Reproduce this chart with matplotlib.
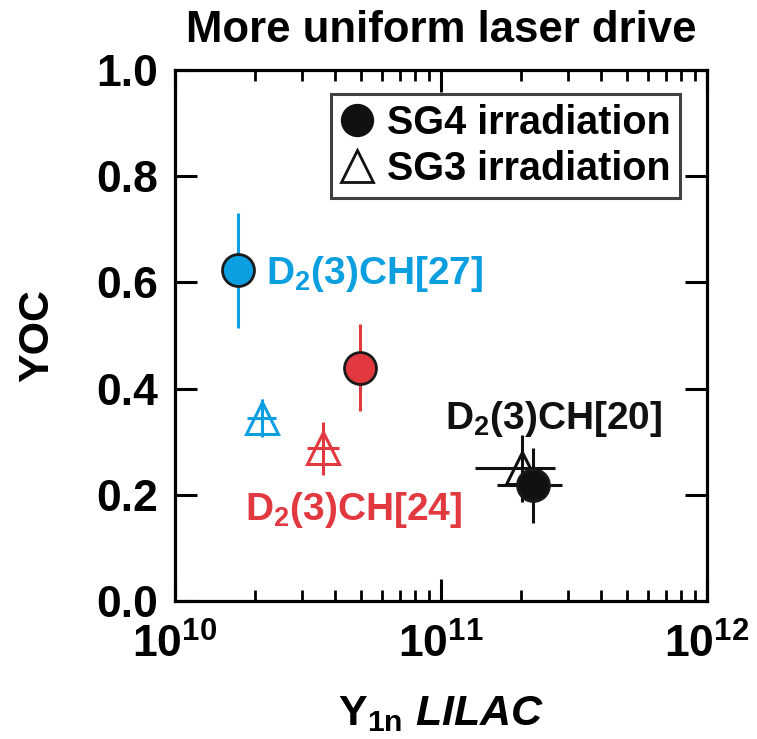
import matplotlib
matplotlib.use("Agg")
import matplotlib.pyplot as plt
from matplotlib.ticker import FixedLocator, FixedFormatter, LogLocator, NullFormatter
from matplotlib.lines import Line2D

plt.rcParams['font.family'] = ['Liberation Sans', 'DejaVu Sans']
plt.rcParams['font.weight'] = 'bold'
plt.rcParams['mathtext.fontset'] = 'custom'
plt.rcParams['mathtext.rm'] = 'Liberation Sans:bold'
plt.rcParams['mathtext.bf'] = 'Liberation Sans:bold'
plt.rcParams['mathtext.it'] = 'Liberation Sans:bold:italic'
plt.rcParams['mathtext.default'] = 'bf'

BLUE = '#0b9fe0'
RED = '#e23840'
BLACK = '#111111'

# SG4 irradiation (filled circles)
sg4_names = ['D2(3)CH[27]', 'D2(3)CH[24]', 'D2(3)CH[20]']
sg4_yield = [1.73e10, 4.95e10, 2.22e11]
sg4_yoc = [0.623, 0.439, 0.218]
sg4_yoc_err = [0.108, 0.082, 0.071]
sg4_yield_lo = [0.0, 0.0, 0.60e11]
sg4_yield_hi = [0.0, 0.0, 0.63e11]
sg4_colors = [BLUE, RED, BLACK]

# SG3 irradiation (open triangles)
sg3_yield = [2.12e10, 3.59e10, 2.02e11]
sg3_yoc = [0.345, 0.288, 0.250]
sg3_yoc_err = [0.036, 0.050, 0.063]
sg3_yield_lo = [0.25e10, 0.45e10, 0.68e11]
sg3_yield_hi = [0.28e10, 0.53e10, 0.66e11]
sg3_colors = [BLUE, RED, BLACK]

fig = plt.figure(figsize=(7.57, 7.39), dpi=100)
ax = fig.add_axes([0.2312, 0.1867, 0.7028, 0.7186])
ax.set_xscale('log')
ax.set_xlim(1e10, 1e12)
ax.set_ylim(0.0, 1.0)

for i in range(3):
    c = sg3_colors[i]
    ax.errorbar(sg3_yield[i], sg3_yoc[i], yerr=sg3_yoc_err[i],
                xerr=[[sg3_yield_lo[i]], [sg3_yield_hi[i]]],
                fmt='^', ms=23, mfc='none', mec=c, mew=2.2,
                ecolor=c, elinewidth=2.2, capsize=0, zorder=3)

for i in range(3):
    c = sg4_colors[i]
    xe = None
    if sg4_yield_lo[i] > 0:
        xe = [[sg4_yield_lo[i]], [sg4_yield_hi[i]]]
    ax.errorbar(sg4_yield[i], sg4_yoc[i], yerr=sg4_yoc_err[i], xerr=xe,
                fmt='o', ms=23, mfc=c, mec='#1a1a1a', mew=2.0,
                ecolor=c, elinewidth=2.2, capsize=0, zorder=4)

label_fs = 28
ax.text(2.2e10, 0.615, r'D$_2$(3)CH[27]', color=BLUE, fontsize=label_fs,
        ha='left', va='center', fontweight='bold')
ax.text(1.83e10, 0.172, r'D$_2$(3)CH[24]', color=RED, fontsize=label_fs,
        ha='left', va='center', fontweight='bold')
ax.text(1.035e11, 0.342, r'D$_2$(3)CH[20]', color=BLACK, fontsize=label_fs,
        ha='left', va='center', fontweight='bold')

ax.set_yticks([0.0, 0.2, 0.4, 0.6, 0.8, 1.0])
ax.set_yticklabels(['0.0', '0.2', '0.4', '0.6', '0.8', '1.0'])
ax.xaxis.set_major_locator(FixedLocator([1e10, 1e11, 1e12]))
ax.xaxis.set_major_formatter(FixedFormatter([r'$10^{10}$', r'$10^{11}$', r'$10^{12}$']))
ax.xaxis.set_minor_locator(LogLocator(base=10, subs=range(2, 10)))
ax.xaxis.set_minor_formatter(NullFormatter())

ax.tick_params(axis='both', which='major', direction='in', length=16, width=2.2,
               top=True, right=True, labelsize=32, pad=12)
ax.tick_params(axis='x', which='minor', direction='in', length=8, width=2.0,
               top=True)
ax.tick_params(axis='x', which='major', pad=16)
for s in ax.spines.values():
    s.set_linewidth(2.3)

ax.set_title('More uniform laser drive', fontsize=31.5, fontweight='bold', pad=20)
ax.set_ylabel('YOC', fontsize=31, fontweight='bold', labelpad=28)
ax.set_xlabel(r'Y$_{1\mathrm{n}}$ $\mathit{LILAC}$', fontsize=31, fontweight='bold',
              labelpad=20)

handles = [
    Line2D([], [], ls='none', marker='o', ms=23, mfc=BLACK, mec=BLACK),
    Line2D([], [], ls='none', marker='^', ms=23, mfc='none', mec=BLACK, mew=2.0),
]
leg = ax.legend(handles, ['SG4 irradiation', 'SG3 irradiation'], loc='upper right',
                bbox_to_anchor=(0.95, 0.955), fontsize=28.5, frameon=True,
                fancybox=False, handlelength=0.8, handletextpad=0.35,
                borderpad=0.25, labelspacing=0.2, borderaxespad=0)
leg.get_frame().set_edgecolor(BLACK)
leg.get_frame().set_linewidth(2.2)
for t in leg.get_texts():
    t.set_fontweight('bold')

fig.savefig('out.png', dpi=100)
